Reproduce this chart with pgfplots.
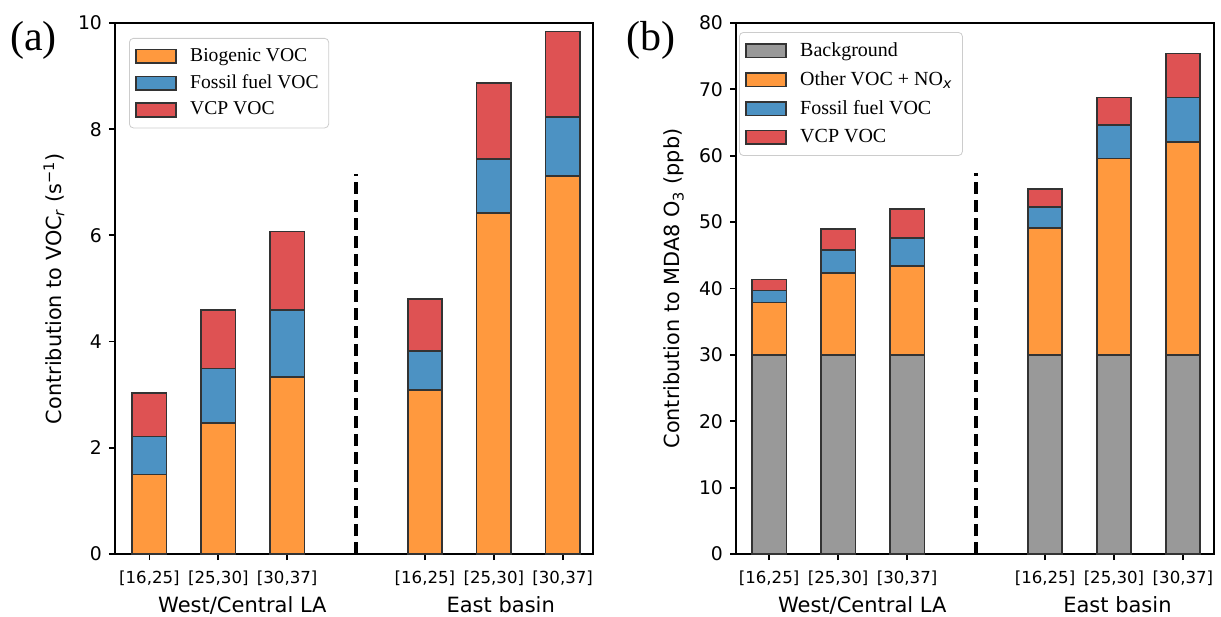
\documentclass[border=0pt]{standalone}
\usepackage{fontspec}
\setmainfont{DejaVu Sans}
\newfontfamily\tnr{Liberation Serif}
\newfontfamily\djv{DejaVu Sans}
\usepackage{pgfplots}
\pgfplotsset{compat=1.18}
\definecolor{corange}{HTML}{FF993E}
\definecolor{cblue}{HTML}{4C92C3}
\definecolor{cred}{HTML}{DE5253}
\definecolor{cgray}{HTML}{999999}
\definecolor{edgec}{HTML}{333333}
\pgfplotsset{
  mybase/.style={
    scale only axis, width=239pt, height=265.5pt,
    ybar stacked, bar width=0.5,
    clip=false,
    xmin=-0.5, xmax=6.44, ymin=0,
    xtick={0,1,2,4,5,6},
    xticklabels={{[16,25]},{[25,30]},{[30,37]},{[16,25]},{[25,30]},{[30,37]}},
    tick pos=left, tick align=outside, major tick length=3pt,
    axis line style={line width=0.9pt},
    every tick/.style={line width=0.9pt, black},
    /pgf/number format/assume math mode=true,
    yticklabel style={font=\fontsize{9.4}{11}\selectfont},
    xticklabel style={font=\fontsize{8.3}{10}\selectfont, yshift=-2pt},
    ylabel style={anchor=center, font=\fontsize{10.4}{12}\selectfont},
    every axis plot/.append style={draw=edgec, line width=0.8pt},
    legend image code/.code={\draw[##1,sharp corners,draw=edgec,line width=0.8pt] (0pt,-3.4pt) rectangle (20pt,3.4pt); \path[draw=none,fill=none] (0pt,0pt) -- (25pt,0pt);},
    legend cell align=left,
    legend style={anchor=north west, draw=black!20, rounded corners=2pt,
      font=\tnr\fontsize{9.8}{11}\selectfont, row sep=1.2pt,
      inner xsep=3pt, inner ysep=3pt},
  }
}
\begin{document}
\begin{tikzpicture}
\useasboundingbox (-57.5pt,-31pt) rectangle (553pt,277pt);
% ---------- (a)
\begin{axis}[mybase, at={(0pt,0pt)}, anchor=south west,
  ymax=10, ytick={0,2,4,6,8,10},
  ylabel={Contribution to VOC\textsubscript{\itshape r} (s\textsuperscript{−1})},
  ylabel style={at={(axis description cs:-0.1276,0.5)}},
  legend style={at={(axis description cs:0.0293,0.9718)}}]
\addplot[fill=corange] coordinates {(0,1.50) (1,2.47) (2,3.33) (4,3.09) (5,6.42) (6,7.12)};
\addplot[fill=cblue] coordinates {(0,0.71) (1,1.02) (2,1.26) (4,0.73) (5,1.02) (6,1.11)};
\addplot[fill=cred] coordinates {(0,0.82) (1,1.11) (2,1.48) (4,0.98) (5,1.43) (6,1.61)};
\legend{Biogenic VOC, Fossil fuel VOC, VCP VOC}
\draw[black, line width=2pt, dash pattern=on 6pt off 3pt] (axis cs:3,0) -- (axis cs:3,7.15);
\node[anchor=base, font=\fontsize{10.5}{12}\selectfont, yshift=-29pt] at (axis cs:1.35,0) {West/Central LA};
\node[anchor=base, font=\fontsize{10.5}{12}\selectfont, yshift=-29pt] at (axis cs:5.1,0) {East basin};
\end{axis}
% ---------- (b)
\begin{axis}[mybase, at={(310.5pt,0pt)}, anchor=south west,
  xmin=-0.48, xmax=6.45,
  ymax=80, ytick={0,10,20,30,40,50,60,70,80},
  ylabel={Contribution to MDA8 O\textsubscript{3} (ppb)},
  ylabel style={at={(axis description cs:-0.1297,0.5)}},
  legend style={at={(axis description cs:0.0063,0.983)}, row sep=2pt, font=\tnr\fontsize{10}{11}\selectfont}]
\addplot[fill=cgray] coordinates {(0,30) (1,30) (2,30) (4,30) (5,30) (6,30)};
\addplot[fill=corange] coordinates {(0,7.9) (1,12.3) (2,13.4) (4,19.1) (5,29.6) (6,32.1)};
\addplot[fill=cblue] coordinates {(0,1.8) (1,3.5) (2,4.2) (4,3.2) (5,5.0) (6,6.7)};
\addplot[fill=cred] coordinates {(0,1.65) (1,3.2) (2,4.4) (4,2.7) (5,4.2) (6,6.6)};
\legend{Background, Other VOC + NO\textsubscript{{\djv\itshape x}}, Fossil fuel VOC, VCP VOC}
\draw[black, line width=2pt, dash pattern=on 6pt off 3pt] (axis cs:3,0) -- (axis cs:3,57.4);
\node[anchor=base, font=\fontsize{10.5}{12}\selectfont, yshift=-29pt] at (axis cs:1.35,0) {West/Central LA};
\node[anchor=base, font=\fontsize{10.5}{12}\selectfont, yshift=-29pt] at (axis cs:5.05,0) {East basin};
\end{axis}
\node[font=\tnr\fontsize{21}{24}\selectfont] at (-40.75pt,257pt) {(a)};
\node[font=\tnr\fontsize{21}{24}\selectfont] at (268pt,257pt) {(b)};
\end{tikzpicture}
\end{document}
